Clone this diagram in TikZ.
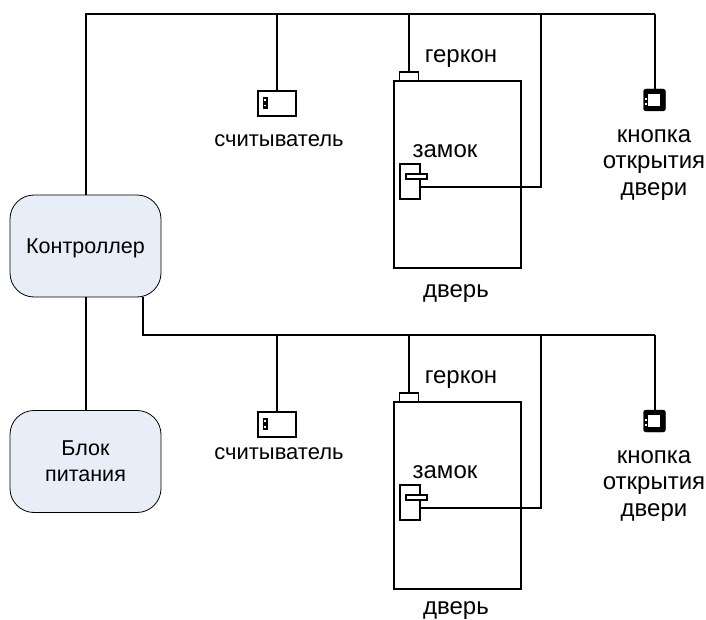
\documentclass[tikz,border=0pt]{standalone}
\usepackage{fontspec}
\setmainfont{Liberation Sans}
\definecolor{boxfill}{HTML}{E8EEF7}
\tikzset{
  wire/.style={draw=black,line width=1.3pt},
  part/.style={draw=black,line width=1.3pt,fill=white,rectangle,inner sep=0pt,outer sep=0pt},
  dot/.style={fill=white,rectangle,inner sep=0pt,outer sep=0pt,minimum width=2pt,minimum height=1.8pt},
  unitbox/.style={draw=black,line width=0.8pt,fill=boxfill,rectangle,rounded corners=24pt,minimum width=151pt,minimum height=102pt,inner sep=0pt,outer sep=0pt,align=center,text depth=0pt,font=\fontsize{21.5}{26}\selectfont},
  lbl/.style={align=center,inner sep=0pt,font=\fontsize{24}{26.5}\selectfont},
  rdlbl/.style={inner sep=0pt,font=\fontsize{22}{26.5}\selectfont}
}
\newcommand{\doorset}[4]{%
  % #1 suffix, #2 bus y, #3 reader label y, #4 door label y
  \begin{scope}[shift={(0,#2)}]
  \node[part,minimum width=127pt,minimum height=187pt] (door#1) at (457.5,174.5-14) {};
  \node[part,minimum width=19pt,minimum height=9pt] (gerk#1) at (409,76.5-14) {};
  \node[part,minimum width=20pt,minimum height=35pt] (lock#1) at (410,181.5-14) {};
  \node[part,minimum width=21pt,minimum height=5pt] (handle#1) at (416.5,176.5-14) {};
  \node[part,minimum width=38pt,minimum height=25pt] (read#1) at (277,103.5-14) {};
  \node[fill=black,rectangle,minimum width=5pt,minimum height=12pt,inner sep=0pt] (rdmark#1) at (265.2,103-14) {};
  \node[dot] (rda#1) at (265.2,100.2-14) {};
  \node[dot] (rdb#1) at (265.2,105.6-14) {};
  \node[draw=black,fill=black,rectangle,rounded corners=2.5pt,minimum width=22pt,minimum height=22pt,inner sep=0pt,outer sep=0pt] (btn#1) at (654.5,100-14) {};
  \node[fill=white,rectangle,minimum width=11.5pt,minimum height=11.5pt,inner sep=0pt] (btnin#1) at (654,100-14) {};
  \node[dot] (bta#1) at (645.5,99-14) {};
  \node[dot] (btb#1) at (645.5,104-14) {};
  \coordinate (jr#1) at (277,0);
  \coordinate (jg#1) at (409,0);
  \coordinate (jl#1) at (541,0);
  \coordinate (jb#1) at (655,0);
  \coordinate (lc#1) at (541,187-14);
  \draw[wire] (jr#1) -- (read#1.north);
  \draw[wire] (jg#1) -- (gerk#1.north);
  \draw[wire] (jb#1) -- (btn#1.north -| jb#1);
  \draw[wire] (jl#1) -- (lc#1) -- (lock#1.east |- lc#1);
  \node[lbl] (tg#1) at (461,58.5-14) {геркон};
  \node[lbl] (tl#1) at (445,151-14) {замок};
  \node[lbl] (td#1) at (456,#4) {дверь};
  \node[rdlbl] (tr#1) at (279,#3) {считыватель};
  \node[lbl] (tb#1) at (654,165-14) {кнопка\\открытия\\двери};
  \end{scope}}
\begin{document}
\begin{tikzpicture}[x=1pt,y=-1pt]
\useasboundingbox (0,0) rectangle (706,620);
\node[unitbox] (ctrl) at (85.5,246) {Контроллер};
\node[unitbox] (psu) at (85.5,461.5) {Блок\\питания};
\coordinate (t0) at (86,14);
\coordinate (t1) at (655,14);
\coordinate (b0) at (143,335);
\coordinate (b1) at (655,335);
\doorset{a}{14}{127}{280}
\doorset{b}{335}{119}{276}
\draw[wire] (ctrl.north -| t0) -- (t0) -- (t1);
\draw[wire] (ctrl.south -| b0) -- (b0) -- (b1);
\draw[wire] (ctrl.south -| t0) -- (psu.north -| t0);
\end{tikzpicture}
\end{document}
